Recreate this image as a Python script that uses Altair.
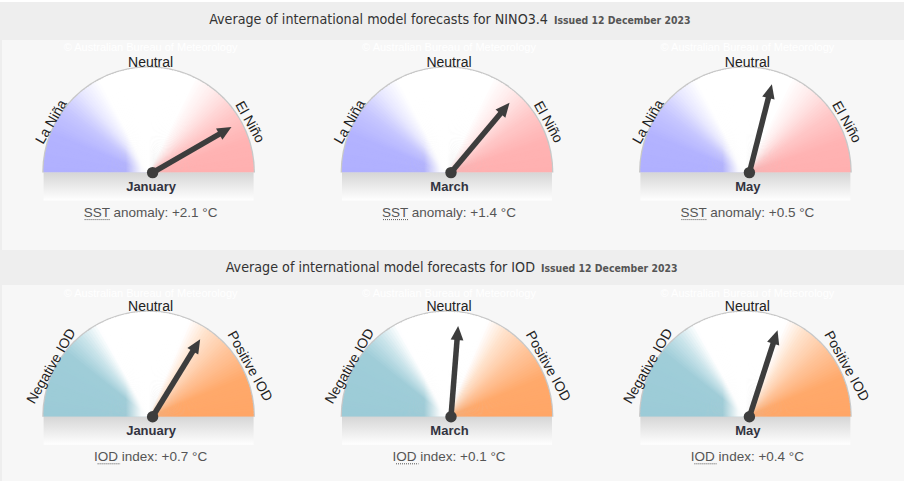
import math
import altair as alt
import pandas as pd

# ---------------- data ----------------
indices = ["NINO3.4", "IOD"]
months = ["January", "March", "May"]
nino_values = [2.1, 1.4, 0.5]
iod_values = [0.7, 0.1, 0.4]
gauge_limits = [3.15, 2.0]            # value at which the needle lies flat
metric_words = ["SST", "IOD"]
metric_texts = ["anomaly", "index"]
left_labels = ["La Niña", "Negative IOD"]
right_labels = ["El Niño", "Positive IOD"]
neutral_label = "Neutral"
title_text = "Average of international model forecasts for"
issued_text = "Issued 12 December 2023"
watermark_text = "© Australian Bureau of Meteorology"
unit = "°C"

# colour bands of each dial: angle (deg, 0 = left end, 180 = right end) -> colour
band_angles = [
    [0, 22, 38, 52, 62, 116, 128, 145, 162, 180],
    [0, 38, 50, 61, 113, 124, 140, 158, 180],
]
band_colors = [
    ["#b0b0ff", "#b3b3ff", "#c8c8ff", "#ececff", "#ffffff", "#ffffff", "#ffecec", "#ffc8c8", "#ffb3b3", "#ffb0b0"],
    ["#9ccbd7", "#9fcdd8", "#c8e3ea", "#ffffff", "#ffffff", "#ffe2cc", "#ffc49a", "#ffa96b", "#ffa667"],
]

# ---------------- layout ----------------
W, H = 907, 481
COL_X0, COL_DX = 148.6, 298.4
BASE_Y = [172.6, 416.8]
HEADER_Y = [20, 268]
TITLE_SPLIT = [548, 535]
WATERMARK_Y = [48, 294]
R = 105
PIVOT_DX = 4
LABEL_DX = 2
NEEDLE = 91
LABEL_R = 111
LABEL_ANG = 63
UNDER_START = [-66, -53]
UNDER_LEN = [25, 22.5]
STEP = 1.5      # width of one shading wedge, degrees

rows = []
for r, vals in enumerate([nino_values, iod_values]):
    for c, (m, v) in enumerate(zip(months, vals)):
        cx = COL_X0 + c * COL_DX
        cy = BASE_Y[r]
        rows.append(dict(
            index=indices[r], row=r, col=c, month=m, value=v, limit=gauge_limits[r],
            cx=cx, cy=cy, px=cx + PIVOT_DX, lx=cx + LABEL_DX,
            left=left_labels[r], right=right_labels[r], neutral=neutral_label,
            wm=watermark_text, wy=WATERMARK_Y[r],
            readout=f"{metric_words[r]} {metric_texts[r]}: {v:+.1f} {unit}",
            ux1=cx + LABEL_DX + UNDER_START[r], ux2=cx + LABEL_DX + UNDER_START[r] + UNDER_LEN[r],
        ))
g = pd.DataFrame(rows)

# shading wedges (geometry only)
wedges = []
n_steps = int(round(180 / STEP))
for _, gg in g.iterrows():
    for k in range(n_steps):
        a0 = k * STEP
        a1 = min(a0 + STEP + 0.8, 180.0)
        wedges.append(dict(
            row=gg["row"], cx=gg["cx"], cy=gg["cy"], phim=a0 + STEP / 2,
            t1=1.5 * math.pi + math.radians(a0), t2=1.5 * math.pi + math.radians(a1),
        ))
wd = pd.DataFrame(wedges)

headers = pd.DataFrame(dict(
    title=[f"{title_text} {n}" for n in indices],
    issued=[issued_text, issued_text],
    x=TITLE_SPLIT, y=HEADER_Y,
))

bands = pd.DataFrame(dict(
    x=[0, 0, 2, 2, 904], x2=[907, 904, 904, 904, 907],
    y=[0, 2, 40, 285, 0], y2=[481, 481, 250, 481, 481],
    fill=["#ffffff", "#eeeeee", "#f7f7f7", "#f7f7f7", "#ffffff"],
))

xs = alt.Scale(domain=[0, W], nice=False, zero=False)
ys = alt.Scale(domain=[0, H], nice=False, zero=False, reverse=True)


def X(f):
    return alt.X(f, type="quantitative", scale=xs, axis=None)


def Y(f):
    return alt.Y(f, type="quantitative", scale=ys, axis=None)


FONT = "Liberation Sans, Arial, sans-serif"
NARROW = "DejaVu Sans Condensed, Liberation Sans, sans-serif"
DARK = "#3d3d3d"


def grad(stops, x1, y1, x2, y2):
    return alt.LinearGradient(
        gradient="linear",
        stops=[alt.GradientStop(color=c, offset=o) for o, c in stops],
        x1=x1, y1=y1, x2=x2, y2=y2,
    )


band_layer = alt.Chart(bands).mark_rect().encode(
    x=X("x"), x2="x2", y=Y("y"), y2="y2", color=alt.Color("fill:N", scale=None)
)

title_layer = alt.Chart(headers).mark_text(
    align="right", baseline="middle", font=NARROW, fontSize=14.2, color="#333333"
).encode(x=X("x"), y=Y("y"), text="title:N")

issued_layer = alt.Chart(headers).transform_calculate(x2="datum.x + 6").mark_text(
    align="left", baseline="middle", font=NARROW, fontSize=10.4, fontWeight="bold", color="#555555", dy=1
).encode(x=X("x2"), y=Y("y"), text="issued:N")

base = alt.Chart(g)

wm_layer = base.mark_text(font=FONT, fontSize=11, color="#ffffff", baseline="middle").encode(
    x=X("lx"), y=Y("wy"), text="wm:N"
)

outline = base.transform_calculate(t1="3*PI/2", t2="5*PI/2").mark_arc(
    radius=R + 1.4, color="#c8c8c8"
).encode(x=X("cx"), y=Y("cy"), theta=alt.Theta("t1:Q", scale=None), theta2="t2:Q")

shade_layers = []
for r in range(2):
    shade_layers.append(
        alt.Chart(wd).transform_filter(f"datum.row == {r}")
        .mark_arc(radius=R, strokeWidth=0)
        .encode(
            x=X("cx"), y=Y("cy"),
            theta=alt.Theta("t1:Q", scale=None), theta2="t2:Q",
            color=alt.Color("phim:Q", legend=None,
                            scale=alt.Scale(domain=band_angles[r], range=band_colors[r], interpolate="rgb")),
        )
    )
shading = alt.layer(*shade_layers).resolve_scale(color="independent")

# soft white glow just left of the pivot
glow = base.transform_calculate(t1="3*PI/2", t2="5*PI/2").mark_arc(
    radius=R - 1,
    fill=grad([(0, "rgba(255,255,255,0)"), (0.39, "rgba(255,255,255,0)"),
               (0.465, "rgba(255,255,255,0.9)"), (0.5, "rgba(255,255,255,1)"),
               (0.525, "rgba(255,255,255,0)"), (1, "rgba(255,255,255,0)")], 0, 0.5, 1, 0.5),
    strokeWidth=0,
).encode(x=X("cx"), y=Y("cy"), theta=alt.Theta("t1:Q", scale=None), theta2="t2:Q")

strip = base.transform_calculate(
    sx1=f"datum.cx - {R}", sx2=f"datum.cx + {R}", sy2="datum.cy + 28"
).mark_rect(
    fill=grad([(0, "#d6d6d6"), (1, "#ffffff")], 0, 0, 0, 1), strokeWidth=0
).encode(x=X("sx1"), x2="sx2", y=Y("cy"), y2="sy2")

needle = base.transform_calculate(
    a="datum.value / datum.limit * PI / 2",
    ex=f"datum.px + {NEEDLE - 12} * sin(datum.a)",
    ey=f"datum.cy - {NEEDLE - 12} * cos(datum.a)",
    hx=f"datum.px + {NEEDLE - 7} * sin(datum.a)",
    hy=f"datum.cy - {NEEDLE - 7} * cos(datum.a)",
    pa="(datum.a * 180 / PI + 360) % 360",
)
shaft = needle.mark_rule(strokeWidth=5.5, color=DARK).encode(
    x=X("px"), y=Y("cy"), x2="ex", y2="ey"
)
head = needle.mark_point(
    shape="M0,-1L0.9,1L-0.9,1Z", filled=True, size=200, color=DARK, opacity=1, strokeWidth=0
).encode(x=X("hx"), y=Y("hy"), angle=alt.Angle("pa:Q", scale=None))
pivot = base.mark_circle(size=130, color=DARK, opacity=1).encode(x=X("px"), y=Y("cy"))

lab = base.transform_calculate(
    nx="datum.lx", ny=f"datum.cy - {LABEL_R - 1}",
    lxl=f"datum.lx - {LABEL_R} * sin({LABEL_ANG} * PI / 180)",
    lyl=f"datum.cy - {LABEL_R} * cos({LABEL_ANG} * PI / 180)",
    lxr=f"datum.lx + {LABEL_R} * sin({LABEL_ANG} * PI / 180)",
    lyr=f"datum.cy - {LABEL_R} * cos({LABEL_ANG} * PI / 180)",
)
neutral = lab.mark_text(font=FONT, fontSize=14, color="#222222", baseline="middle").encode(
    x=X("nx"), y=Y("ny"), text="neutral:N"
)
left_t = lab.mark_text(font=FONT, fontSize=14, color="#222222", baseline="middle", angle=300).encode(
    x=X("lxl"), y=Y("lyl"), text="left:N"
)
right_t = lab.mark_text(font=FONT, fontSize=14, color="#222222", baseline="middle", angle=61).encode(
    x=X("lxr"), y=Y("lyr"), text="right:N"
)

month_t = base.transform_calculate(my="datum.cy + 14.5", mx="datum.lx + 0.5").mark_text(
    font=FONT, fontSize=13, fontWeight="bold", color="#333340", baseline="middle"
).encode(x=X("mx"), y=Y("my"), text="month:N")

read_t = base.transform_calculate(ry="datum.cy + 40").mark_text(
    font=FONT, fontSize=13.5, color="#555555", baseline="middle"
).encode(x=X("lx"), y=Y("ry"), text="readout:N")

under = base.transform_calculate(uy="datum.cy + 47").mark_rule(
    strokeWidth=1, strokeDash=[1, 1], color="#555555"
).encode(x=X("ux1"), x2="ux2", y=Y("uy"))

chart = alt.layer(
    band_layer, title_layer, issued_layer, wm_layer, outline, shading, glow, strip,
    shaft, head, pivot, neutral, left_t, right_t, month_t, read_t, under,
).resolve_scale(color="independent").properties(
    width=W, height=H, padding=0, autosize=alt.AutoSizeParams(type="none"), background="#ffffff"
).configure_view(stroke=None)

chart.save("out.html", embed_options={"renderer": "svg", "actions": False})
